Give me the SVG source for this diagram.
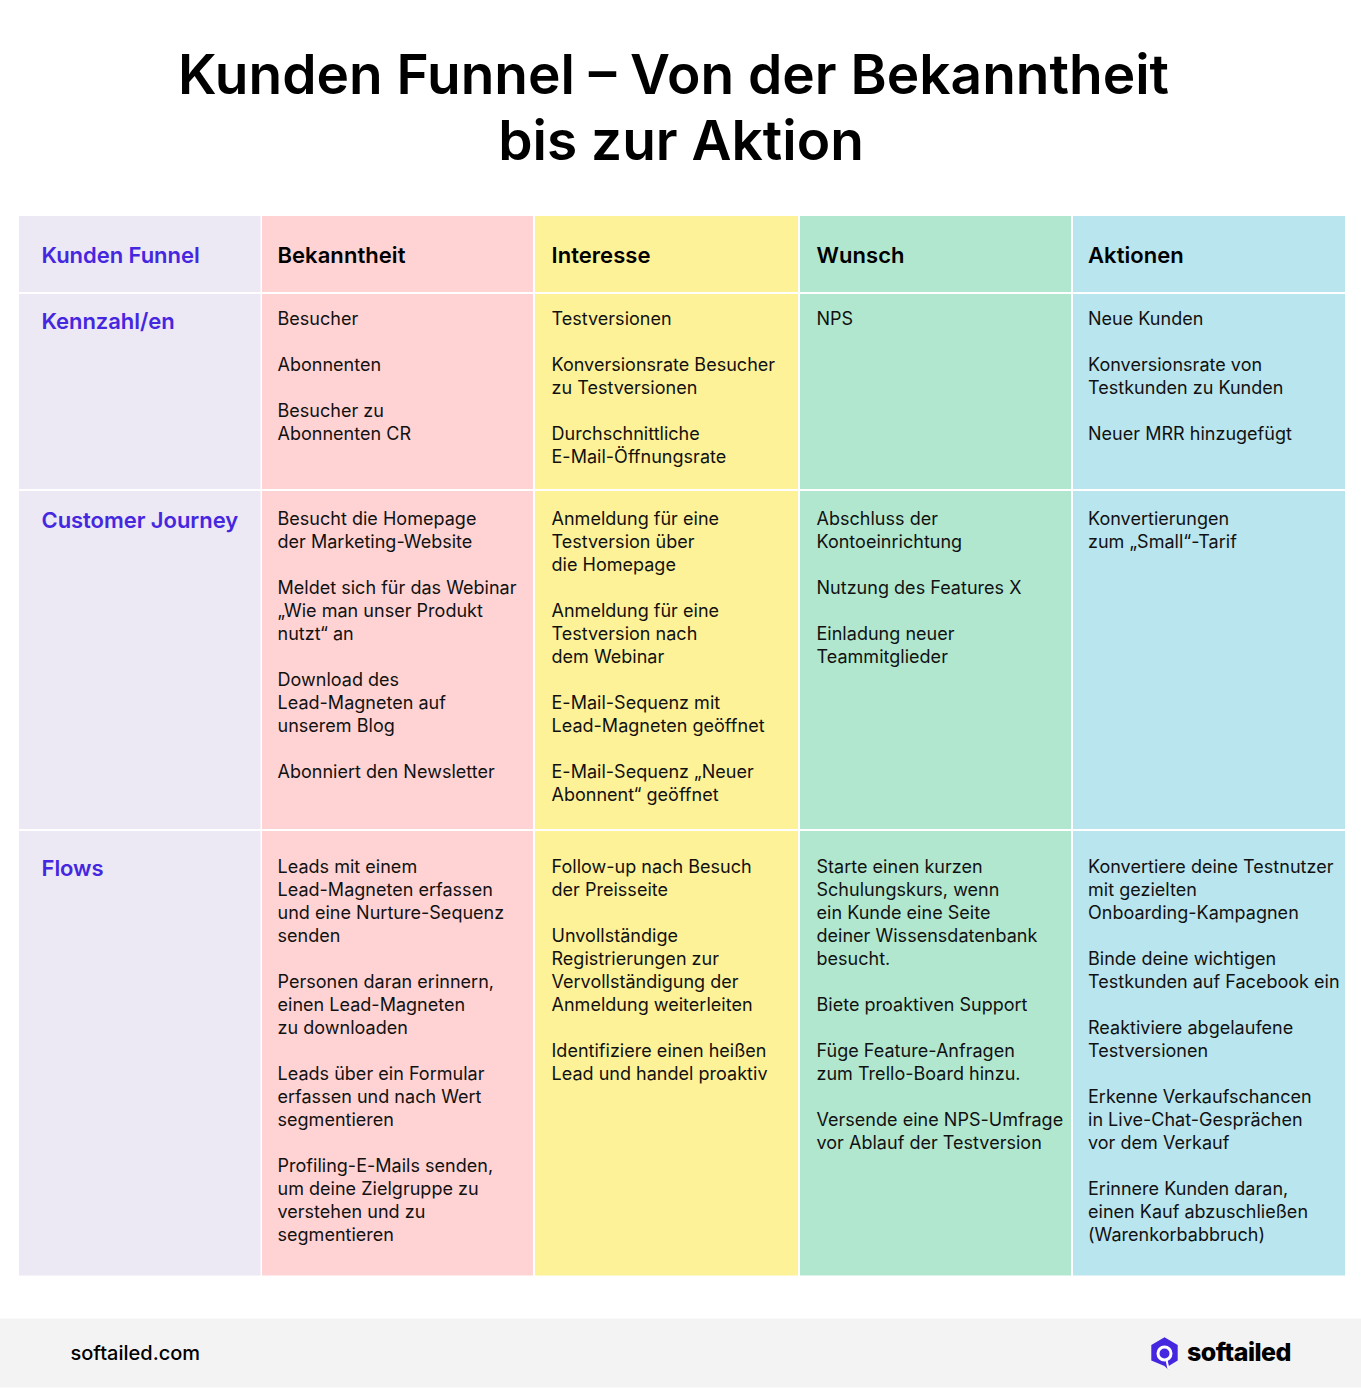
<svg xmlns="http://www.w3.org/2000/svg" width="1361" height="1389" viewBox="0 0 1361 1389">
<style>
text{font-family:Inter,"Noto Sans",sans-serif;fill:#111}
.t{font-size:55px;font-weight:600;text-anchor:middle;fill:#000}
.b{font-size:18px;font-weight:400;letter-spacing:.02px}
.h{font-size:22px;font-weight:600;fill:#000;letter-spacing:.05px}
.r{font-size:22px;font-weight:600;fill:#4527e0;letter-spacing:-.05px}
.lav{fill:#ece8f4}.pink{fill:#ffd3d3}.yel{fill:#fef298}.grn{fill:#b1e7cf}.blu{fill:#b9e5ee}
</style>
<rect width="1361" height="1389" fill="#fff"/>
<g id="title"><text class="t" x="673.500" y="94">Kunden Funnel – Von der Bekanntheit</text><text class="t" x="681" y="160">bis zur Aktion</text></g>
<g id="row-header">
<rect class="lav" x="19" y="216" width="241.500" height="76"/><text class="r" x="41.500" y="263">Kunden Funnel</text>
<rect class="pink" x="262" y="216" width="271" height="76"/><text class="h" x="277.500" y="263">Bekanntheit</text>
<rect class="yel" x="535" y="216" width="263" height="76"/><text class="h" x="551.500" y="263">Interesse</text>
<rect class="grn" x="800" y="216" width="271" height="76"/><text class="h" x="816.500" y="263">Wunsch</text>
<rect class="blu" x="1073" y="216" width="272" height="76"/><text class="h" x="1088" y="263">Aktionen</text>
</g>
<g id="row-kennzahlen">
<rect class="lav" x="19" y="294" width="241.500" height="195"/><text class="r" x="41.500" y="329">Kennzahl/en</text>
<rect class="pink" x="262" y="294" width="271" height="195"/>
<text class="b"><tspan x="277.500" y="325">Besucher</tspan><tspan x="277.500" y="371">Abonnenten</tspan><tspan x="277.500" y="417">Besucher zu</tspan><tspan x="277.500" y="440">Abonnenten CR</tspan></text>
<rect class="yel" x="535" y="294" width="263" height="195"/>
<text class="b"><tspan x="551.500" y="325">Testversionen</tspan><tspan x="551.500" y="371">Konversionsrate Besucher</tspan><tspan x="551.500" y="394">zu Testversionen</tspan><tspan x="551.500" y="440">Durchschnittliche</tspan><tspan x="551.500" y="463">E-Mail-Öffnungsrate</tspan></text>
<rect class="grn" x="800" y="294" width="271" height="195"/>
<text class="b"><tspan x="816.500" y="325">NPS</tspan></text>
<rect class="blu" x="1073" y="294" width="272" height="195"/>
<text class="b"><tspan x="1088" y="325">Neue Kunden</tspan><tspan x="1088" y="371">Konversionsrate von</tspan><tspan x="1088" y="394">Testkunden zu Kunden</tspan><tspan x="1088" y="440">Neuer MRR hinzugefügt</tspan></text>
</g>
<g id="row-journey">
<rect class="lav" x="19" y="491" width="241.500" height="338"/><text class="r" x="41.500" y="528">Customer Journey</text>
<rect class="pink" x="262" y="491" width="271" height="338"/>
<text class="b"><tspan x="277.500" y="525">Besucht die Homepage</tspan><tspan x="277.500" y="548">der Marketing-Website</tspan><tspan x="277.500" y="594">Meldet sich für das Webinar</tspan><tspan x="277.500" y="617">„Wie man unser Produkt</tspan><tspan x="277.500" y="640">nutzt“ an</tspan><tspan x="277.500" y="686">Download des</tspan><tspan x="277.500" y="709">Lead-Magneten auf</tspan><tspan x="277.500" y="732">unserem Blog</tspan><tspan x="277.500" y="778">Abonniert den Newsletter</tspan></text>
<rect class="yel" x="535" y="491" width="263" height="338"/>
<text class="b"><tspan x="551.500" y="525">Anmeldung für eine</tspan><tspan x="551.500" y="548">Testversion über</tspan><tspan x="551.500" y="571">die Homepage</tspan><tspan x="551.500" y="617">Anmeldung für eine</tspan><tspan x="551.500" y="640">Testversion nach</tspan><tspan x="551.500" y="663">dem Webinar</tspan><tspan x="551.500" y="709">E-Mail-Sequenz mit</tspan><tspan x="551.500" y="732">Lead-Magneten geöffnet</tspan><tspan x="551.500" y="778">E-Mail-Sequenz „Neuer</tspan><tspan x="551.500" y="801">Abonnent“ geöffnet</tspan></text>
<rect class="grn" x="800" y="491" width="271" height="338"/>
<text class="b"><tspan x="816.500" y="525">Abschluss der</tspan><tspan x="816.500" y="548">Kontoeinrichtung</tspan><tspan x="816.500" y="594">Nutzung des Features X</tspan><tspan x="816.500" y="640">Einladung neuer</tspan><tspan x="816.500" y="663">Teammitglieder</tspan></text>
<rect class="blu" x="1073" y="491" width="272" height="338"/>
<text class="b"><tspan x="1088" y="525">Konvertierungen</tspan><tspan x="1088" y="548">zum „Small“-Tarif</tspan></text>
</g>
<g id="row-flows">
<rect class="lav" x="19" y="831" width="241.500" height="444.500"/><text class="r" x="41.500" y="876">Flows</text>
<rect class="pink" x="262" y="831" width="271" height="444.500"/>
<text class="b"><tspan x="277.500" y="873">Leads mit einem</tspan><tspan x="277.500" y="896">Lead-Magneten erfassen</tspan><tspan x="277.500" y="919">und eine Nurture-Sequenz</tspan><tspan x="277.500" y="942">senden</tspan><tspan x="277.500" y="988">Personen daran erinnern,</tspan><tspan x="277.500" y="1011">einen Lead-Magneten</tspan><tspan x="277.500" y="1034">zu downloaden</tspan><tspan x="277.500" y="1080">Leads über ein Formular</tspan><tspan x="277.500" y="1103">erfassen und nach Wert</tspan><tspan x="277.500" y="1126">segmentieren</tspan><tspan x="277.500" y="1172">Profiling-E-Mails senden,</tspan><tspan x="277.500" y="1195">um deine Zielgruppe zu</tspan><tspan x="277.500" y="1218">verstehen und zu</tspan><tspan x="277.500" y="1241">segmentieren</tspan></text>
<rect class="yel" x="535" y="831" width="263" height="444.500"/>
<text class="b"><tspan x="551.500" y="873">Follow-up nach Besuch</tspan><tspan x="551.500" y="896">der Preisseite</tspan><tspan x="551.500" y="942">Unvollständige</tspan><tspan x="551.500" y="965">Registrierungen zur</tspan><tspan x="551.500" y="988">Vervollständigung der</tspan><tspan x="551.500" y="1011">Anmeldung weiterleiten</tspan><tspan x="551.500" y="1057">Identifiziere einen heißen</tspan><tspan x="551.500" y="1080">Lead und handel proaktiv</tspan></text>
<rect class="grn" x="800" y="831" width="271" height="444.500"/>
<text class="b"><tspan x="816.500" y="873">Starte einen kurzen</tspan><tspan x="816.500" y="896">Schulungskurs, wenn</tspan><tspan x="816.500" y="919">ein Kunde eine Seite</tspan><tspan x="816.500" y="942">deiner Wissensdatenbank</tspan><tspan x="816.500" y="965">besucht.</tspan><tspan x="816.500" y="1011">Biete proaktiven Support</tspan><tspan x="816.500" y="1057">Füge Feature-Anfragen</tspan><tspan x="816.500" y="1080">zum Trello-Board hinzu.</tspan><tspan x="816.500" y="1126">Versende eine NPS-Umfrage</tspan><tspan x="816.500" y="1149">vor Ablauf der Testversion</tspan></text>
<rect class="blu" x="1073" y="831" width="272" height="444.500"/>
<text class="b"><tspan x="1088" y="873">Konvertiere deine Testnutzer</tspan><tspan x="1088" y="896">mit gezielten</tspan><tspan x="1088" y="919">Onboarding-Kampagnen</tspan><tspan x="1088" y="965">Binde deine wichtigen</tspan><tspan x="1088" y="988">Testkunden auf Facebook ein</tspan><tspan x="1088" y="1034">Reaktiviere abgelaufene</tspan><tspan x="1088" y="1057">Testversionen</tspan><tspan x="1088" y="1103">Erkenne Verkaufschancen</tspan><tspan x="1088" y="1126">in Live-Chat-Gesprächen</tspan><tspan x="1088" y="1149">vor dem Verkauf</tspan><tspan x="1088" y="1195">Erinnere Kunden daran,</tspan><tspan x="1088" y="1218">einen Kauf abzuschließen</tspan><tspan x="1088" y="1241">(Warenkorbabbruch)</tspan></text>
</g>
<g id="footer">
<rect x="0" y="1318.500" width="1361" height="69" fill="#f3f3f3"/>
<text x="70.500" y="1360" font-size="20" font-weight="500" style="fill:#000">softailed.com</text>
<path d="M1164.500 1337.300l13.200 7.700v15.500l-9 5.500-.5 3.500-3.700-3.500-13.200-5.500v-15.500z" fill="#4527e0"/>
<circle cx="1164.500" cy="1353.500" r="6.500" fill="none" stroke="#fff" stroke-width="3"/>
<path d="M1166.500 1360l2 9" stroke="#fff" stroke-width="2" fill="none"/>
<text x="1187" y="1361" font-size="25" font-weight="800" letter-spacing="-.5" style="fill:#000">softailed</text>
</g>
</svg>
